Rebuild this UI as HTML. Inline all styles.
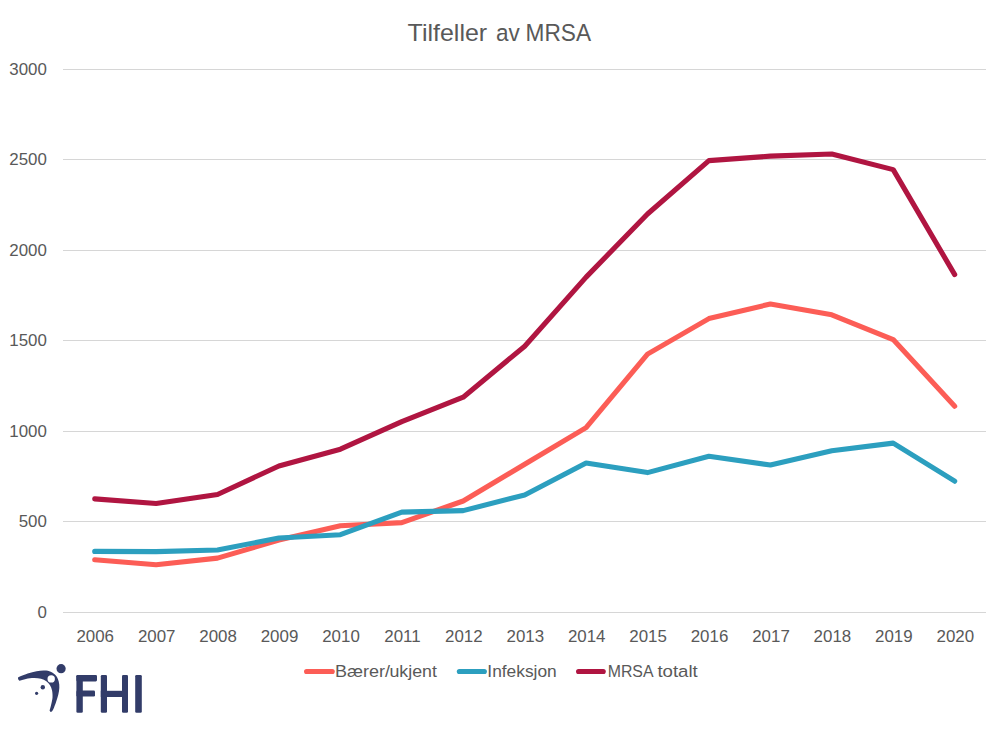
<!DOCTYPE html>
<html><head><meta charset="utf-8"><title>Tilfeller av MRSA</title>
<style>
html,body{margin:0;padding:0;background:#fff;}
body{width:1000px;height:734px;overflow:hidden;font-family:"Liberation Sans",sans-serif;}
svg{display:block}
text{font-family:"Liberation Sans",sans-serif;fill:#595959}
</style></head><body>
<svg width="1000" height="734" viewBox="0 0 1000 734">
<rect width="1000" height="734" fill="#fff"/>
<line x1="63" x2="986" y1="69.5" y2="69.5" stroke="#D6D6D6" stroke-width="1.2"/>
<line x1="63" x2="986" y1="159.5" y2="159.5" stroke="#D6D6D6" stroke-width="1.2"/>
<line x1="63" x2="986" y1="250.5" y2="250.5" stroke="#D6D6D6" stroke-width="1.2"/>
<line x1="63" x2="986" y1="340.5" y2="340.5" stroke="#D6D6D6" stroke-width="1.2"/>
<line x1="63" x2="986" y1="431.5" y2="431.5" stroke="#D6D6D6" stroke-width="1.2"/>
<line x1="63" x2="986" y1="521.5" y2="521.5" stroke="#D6D6D6" stroke-width="1.2"/>
<line x1="63" x2="986" y1="612.5" y2="612.5" stroke="#D6D6D6" stroke-width="1.2"/>
<text x="46.9" y="75.4" font-size="16.9" text-anchor="end" fill="#606060">3000</text>
<text x="46.9" y="165.4" font-size="16.9" text-anchor="end" fill="#606060">2500</text>
<text x="46.9" y="256.4" font-size="16.9" text-anchor="end" fill="#606060">2000</text>
<text x="46.9" y="346.4" font-size="16.9" text-anchor="end" fill="#606060">1500</text>
<text x="46.9" y="437.4" font-size="16.9" text-anchor="end" fill="#606060">1000</text>
<text x="46.9" y="527.4" font-size="16.9" text-anchor="end" fill="#606060">500</text>
<text x="46.9" y="618.4" font-size="16.9" text-anchor="end" fill="#606060">0</text>
<text x="95.2" y="641.6" font-size="16.9" text-anchor="middle" fill="#606060">2006</text>
<text x="156.7" y="641.6" font-size="16.9" text-anchor="middle" fill="#606060">2007</text>
<text x="218.1" y="641.6" font-size="16.9" text-anchor="middle" fill="#606060">2008</text>
<text x="279.5" y="641.6" font-size="16.9" text-anchor="middle" fill="#606060">2009</text>
<text x="341.0" y="641.6" font-size="16.9" text-anchor="middle" fill="#606060">2010</text>
<text x="402.4" y="641.6" font-size="16.9" text-anchor="middle" fill="#606060">2011</text>
<text x="463.8" y="641.6" font-size="16.9" text-anchor="middle" fill="#606060">2012</text>
<text x="525.3" y="641.6" font-size="16.9" text-anchor="middle" fill="#606060">2013</text>
<text x="586.7" y="641.6" font-size="16.9" text-anchor="middle" fill="#606060">2014</text>
<text x="648.1" y="641.6" font-size="16.9" text-anchor="middle" fill="#606060">2015</text>
<text x="709.5" y="641.6" font-size="16.9" text-anchor="middle" fill="#606060">2016</text>
<text x="771.0" y="641.6" font-size="16.9" text-anchor="middle" fill="#606060">2017</text>
<text x="832.4" y="641.6" font-size="16.9" text-anchor="middle" fill="#606060">2018</text>
<text x="893.8" y="641.6" font-size="16.9" text-anchor="middle" fill="#606060">2019</text>
<text x="955.3" y="641.6" font-size="16.9" text-anchor="middle" fill="#606060">2020</text>
<text x="407.6" y="41.3" font-size="24.1" textLength="79.6" lengthAdjust="spacingAndGlyphs">Tilfeller</text>
<text x="495.9" y="41.3" font-size="24.1" textLength="23.8" lengthAdjust="spacingAndGlyphs">av</text>
<text x="525.6" y="41.3" font-size="24.1" textLength="65.5" lengthAdjust="spacingAndGlyphs">MRSA</text>
<polyline points="94.7,559.8 156.1,564.7 217.5,558.1 278.9,540.1 340.4,525.7 401.8,522.6 463.2,501.0 524.7,464.2 586.1,427.6 647.5,354.1 708.9,318.6 770.4,304.0 831.8,314.8 893.2,339.6 954.7,406.2" fill="none" stroke="#FC5D56" stroke-width="5.1" stroke-linecap="round" stroke-linejoin="round"/>
<polyline points="94.7,551.4 156.1,551.6 217.5,550.0 278.9,538.0 340.4,534.7 401.8,512.1 463.2,510.6 524.7,495.0 586.1,463.1 647.5,472.6 708.9,456.3 770.4,465.0 831.8,450.8 893.2,443.1 954.7,481.2" fill="none" stroke="#2C9FBF" stroke-width="5.1" stroke-linecap="round" stroke-linejoin="round"/>
<polyline points="94.7,498.9 156.1,503.5 217.5,494.5 278.9,466.0 340.4,449.2 401.8,421.6 463.2,397.2 524.7,346.2 586.1,277.1 647.5,214.0 708.9,160.6 770.4,156.1 831.8,154.0 893.2,169.6 954.7,274.6" fill="none" stroke="#B01541" stroke-width="5.1" stroke-linecap="round" stroke-linejoin="round"/>
<line x1="306.55" x2="332.25" y1="671.5" y2="671.5" stroke="#FC5D56" stroke-width="5.1" stroke-linecap="round"/>
<line x1="459.35" x2="484.34999999999997" y1="671.5" y2="671.5" stroke="#2C9FBF" stroke-width="5.1" stroke-linecap="round"/>
<line x1="578.55" x2="603.25" y1="671.5" y2="671.5" stroke="#B01541" stroke-width="5.1" stroke-linecap="round"/>
<text x="335.1" y="676.6" font-size="16.7" fill="#5E5E5E" textLength="55.0" lengthAdjust="spacingAndGlyphs">Bærer/</text>
<text x="389.4" y="676.6" font-size="16.7" fill="#5E5E5E" textLength="47.5" lengthAdjust="spacingAndGlyphs">ukjent</text>
<text x="487.35" y="676.6" font-size="16.7" fill="#5E5E5E" textLength="69.4" lengthAdjust="spacingAndGlyphs">Infeksjon</text>
<text x="607.7" y="676.6" font-size="16.7" fill="#5E5E5E" textLength="45.8" lengthAdjust="spacingAndGlyphs">MRSA</text>
<text x="657.4" y="676.6" font-size="16.7" fill="#5E5E5E" textLength="40.4" lengthAdjust="spacingAndGlyphs">totalt</text>
<g fill="#323C69">
<path d="M18.15,677.32 C19.74,676.70 24.64,674.62 27.71,673.60 C30.79,672.58 33.77,671.73 36.57,671.21 C39.38,670.69 42.18,670.40 44.54,670.50 C46.91,670.60 48.82,670.94 50.74,671.83 C52.66,672.71 54.73,674.19 56.06,675.81 C57.39,677.44 58.17,679.58 58.72,681.57 C59.26,683.57 59.41,685.56 59.34,687.77 C59.26,689.99 58.82,692.50 58.27,694.86 C57.73,697.22 56.87,699.58 56.06,701.94 C55.25,704.31 54.11,707.44 53.40,709.03 C52.69,710.62 52.07,711.10 51.81,711.51 Q50.30,712.57 49.59,710.62 C49.86,709.62 50.70,706.79 51.19,704.60 C51.67,702.42 52.37,699.88 52.52,697.52 C52.66,695.15 52.52,692.50 52.07,690.43 C51.63,688.36 50.82,686.67 49.86,685.12 C48.90,683.57 47.79,682.19 46.32,681.13 C44.84,680.07 43.07,679.25 41.00,678.74 C38.93,678.22 36.42,678.00 33.91,678.03 C31.41,678.06 28.38,678.44 25.94,678.91 C23.51,679.39 20.41,680.54 19.30,680.86 Q17.26,679.62 18.15,677.32 Z"/>
<circle cx="61.1" cy="668.7" r="4.6"/>
<circle cx="42.8" cy="687.2" r="2.2"/>
<circle cx="36.6" cy="693.3" r="1.6"/>
<rect x="76.4" y="675" width="6.4" height="37.8" rx="1.3"/>
<rect x="76.4" y="675" width="20.6" height="6.4" rx="1.3"/>
<rect x="76.4" y="690.6" width="18.6" height="6" rx="1.3"/>
<rect x="100.8" y="675" width="6.2" height="37.8" rx="1.3"/>
<rect x="122" y="675" width="6" height="37.8" rx="1.3"/>
<rect x="100.8" y="690.8" width="27.2" height="6.2"/>
<rect x="135.2" y="675" width="6.6" height="37.8" rx="1.3"/>
</g>
<circle cx="51.2" cy="678.9" r="3.7" fill="#fff"/>
</svg></body></html>
